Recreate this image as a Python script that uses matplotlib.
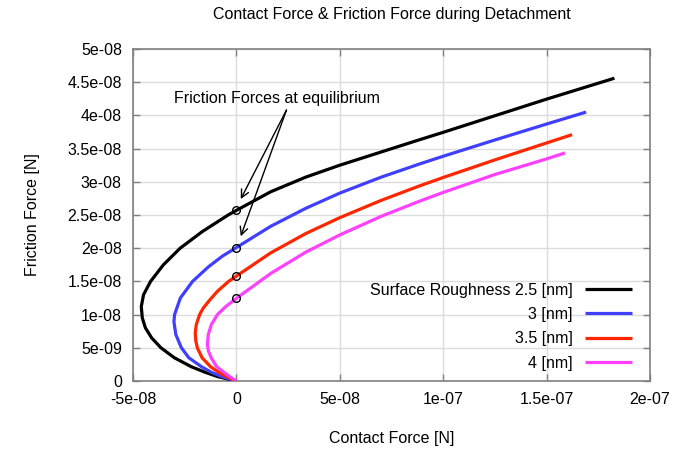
import matplotlib
matplotlib.use("Agg")
import matplotlib.pyplot as plt

# values, in units of 1e-8 N (contact force x, friction force y)
black_x = [0, -0.89, -1.5, -2.18, -3.0, -3.65, -4.1, -4.4, -4.55, -4.60, -4.49, -4.15, -3.53,
           -2.72, -1.65, -0.40, 0, 1.66, 3.35, 5.0, 8.87, 10.0, 12.5, 15.0, 18.28]
black_y = [0, 0.065, 0.13, 0.215, 0.35, 0.5, 0.65, 0.8, 0.95, 1.12, 1.3, 1.5, 1.75,
           2.0, 2.25, 2.5, 2.57, 2.85, 3.07, 3.25, 3.635, 3.745, 3.995, 4.245, 4.56]

blue_x = [0, -0.70, -1.2, -1.69, -2.30, -2.66, -2.93, -3.02, -2.99, -2.71, -2.12, -1.35, -0.68,
          0, 1.66, 3.35, 5.0, 7.0, 8.87, 10.0, 12.5, 15.0, 16.91]
blue_y = [0, 0.065, 0.13, 0.215, 0.35, 0.5, 0.7, 0.89, 1.0, 1.25, 1.5, 1.72, 1.88,
          2.01, 2.33, 2.60, 2.83, 3.07, 3.27, 3.385, 3.63, 3.87, 4.05]

red_x = [0, -0.48, -0.85, -1.25, -1.66, -1.89, -1.96, -1.99, -1.94, -1.78, -1.60, -1.29, -0.92,
         -0.38, 0, 1.66, 3.35, 5.0, 7.0, 8.87, 10.0, 12.5, 15.0, 16.23]
red_y = [0, 0.065, 0.13, 0.215, 0.35, 0.5, 0.6, 0.72, 0.85, 1.0, 1.1, 1.22, 1.35,
         1.5, 1.58, 1.93, 2.22, 2.46, 2.72, 2.94, 3.065, 3.33, 3.585, 3.71]

magenta_x = [0, -0.32, -0.60, -0.95, -1.22, -1.35, -1.405, -1.36, -1.21, -0.92, -0.52,
             0, 1.66, 3.35, 5.0, 7.0, 8.87, 10.0, 12.5, 15.0, 15.89]
magenta_y = [0, 0.065, 0.13, 0.215, 0.35, 0.45, 0.55, 0.7, 0.85, 1.0, 1.12,
             1.245, 1.62, 1.94, 2.20, 2.48, 2.71, 2.84, 3.11, 3.345, 3.435]

equilibrium_y = [2.57, 2.01, 1.58, 1.245]

series = [
    ("Surface Roughness 2.5 [nm]", black_x, black_y, "black"),
    ("3 [nm]", blue_x, blue_y, "#3f3fff"),
    ("3.5 [nm]", red_x, red_y, "#ff2600"),
    ("4 [nm]", magenta_x, magenta_y, "#ff40ff"),
]

x_ticks = [-5e-08, 0, 5e-08, 1e-07, 1.5e-07, 2e-07]
y_ticks = [0, 5e-09, 1e-08, 1.5e-08, 2e-08, 2.5e-08, 3e-08, 3.5e-08, 4e-08, 4.5e-08, 5e-08]

SCALE = 1e-8
FS = 11.5

plt.rcParams["font.family"] = ["Liberation Sans", "DejaVu Sans"]

fig = plt.figure(figsize=(6.86, 4.54), dpi=100)
ax = fig.add_axes([133 / 686, 1 - 381 / 454, 517 / 686, 332 / 454])

for label, xs, ys, color in series:
    ax.plot([v * SCALE for v in xs], [v * SCALE for v in ys], color=color, lw=2.3,
            label=label, solid_capstyle="butt", solid_joinstyle="round", zorder=3)

ax.plot([0] * len(equilibrium_y), [v * SCALE for v in equilibrium_y], "o", mfc="none",
        mec="black", ms=5.5, mew=1, zorder=4)

ax.set_xlim(-5e-08, 2e-07)
ax.set_ylim(0, 5e-08)
ax.set_xticks(x_ticks)
ax.set_yticks(y_ticks)
ax.set_xticklabels(["%g" % t for t in x_ticks])
ax.set_yticklabels(["%g" % t for t in y_ticks])
ax.tick_params(direction="in", length=5, width=1, color="#808080", labelsize=FS, pad=8,
               top=True, right=True)
ax.grid(True, color="#dcdcdc", lw=1)
ax.set_axisbelow(True)
for sp in ax.spines.values():
    sp.set_color("#808080")
    sp.set_linewidth(1.2)

ax.set_title("Contact Force & Friction Force during Detachment", fontsize=FS, pad=0,
             y=(454 - 14) / 454 / (332 / 454) - (454 - 381) / 332, va="center")
ax.set_xlabel("Contact Force [N]", fontsize=FS)
ax.set_ylabel("Friction Force [N]", fontsize=FS)
ax.xaxis.set_label_coords(0.5, (381 - 439) / 332)
ax.yaxis.set_label_coords((33 - 133) / 517, 0.5)
ax.xaxis.label.set_va("center")
ax.yaxis.label.set_va("center")

for head_y in [2.74e-8, 2.18e-8]:
    ax.annotate("", xy=(0.21e-8, head_y), xytext=(2.42e-8, 4.08e-8),
                arrowprops=dict(arrowstyle="->", color="black", lw=1, mutation_scale=14,
                                shrinkA=0, shrinkB=0))
ax.text(-3.02e-8, 4.25e-8, "Friction Forces at equilibrium", fontsize=FS, va="center", ha="left")

ax.legend(loc="upper right", bbox_to_anchor=((631.7 - 133) / 517, 0.296), frameon=False,
          markerfirst=False, fontsize=FS, handlelength=2.9, handletextpad=0.8,
          labelspacing=0.58, borderpad=0, borderaxespad=0)

fig.savefig("out.png", dpi=100)
